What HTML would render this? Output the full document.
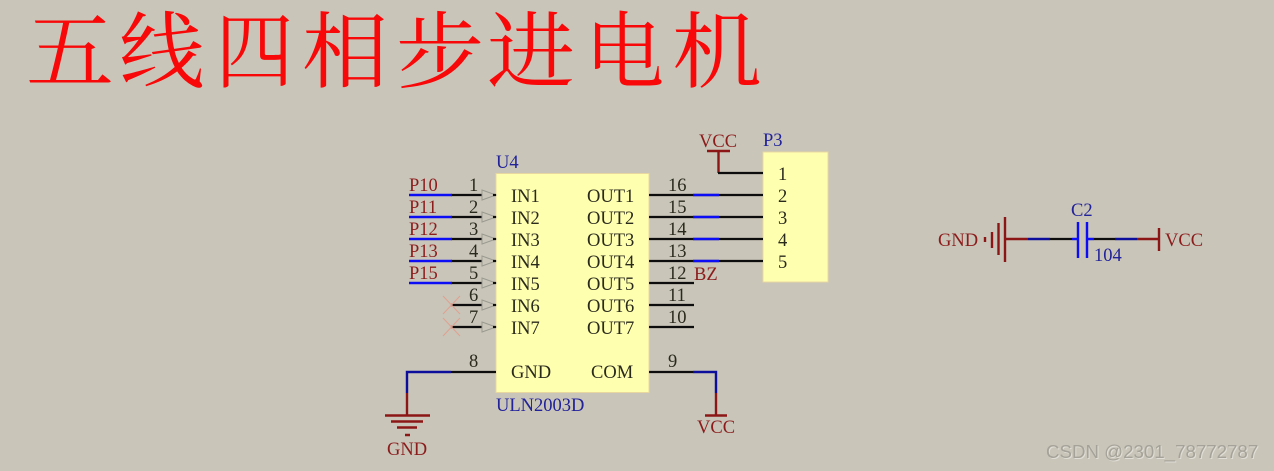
<!DOCTYPE html>
<html><head><meta charset="utf-8"><style>
html,body{margin:0;padding:0;background:#c9c5b9}
svg{display:block}
text{font-family:"Liberation Serif","Noto Serif CJK SC",serif;font-size:18.500px}
.t{fill:#2a2a1e}.r{fill:#8c1f1f}.b{fill:#20209a}
.k{stroke:#111;fill:none;stroke-width:2.200}
.u{stroke:#1010f5;fill:none;stroke-width:2.400}
.n{stroke:#10109c;fill:none;stroke-width:2.400}
.d{stroke:#8c1414;fill:none;stroke-width:2.400}
.a{stroke:#9a9a90;fill:none;stroke-width:1}
.x{stroke:#e0a090;fill:none;stroke-width:1}
.ti{font-family:"Noto Serif CJK SC","Liberation Serif",serif;font-size:88px;fill:#f80808}
</style></head><body>
<svg width="1274" height="471" viewBox="0 0 1274 471" xmlns="http://www.w3.org/2000/svg">
<defs><filter id="s" x="-2%" y="-2%" width="104%" height="104%"><feGaussianBlur stdDeviation="0.35"/></filter></defs>
<rect width="1274" height="471" fill="#c9c5b9"/>
<g>
<text class="ti" transform="translate(26 81) scale(1 .95)">五</text>
<text class="ti" transform="translate(119 81) scale(.97 .95)">线</text>
<text class="ti" transform="translate(215.500 81) scale(.89 .95)">四</text>
<text class="ti" transform="translate(302 81) scale(.98 .95)">相</text>
<text class="ti" transform="translate(396 81) scale(1 .95)">步</text>
<text class="ti" transform="translate(487 81) scale(1 .95)">进</text>
<text class="ti" transform="translate(585 81) scale(.9 .95)">电</text>
<text class="ti" transform="translate(672 81) scale(1.020 .95)">机</text>
</g>
<g filter="url(#s)">
<rect x="496" y="173.500" width="153" height="219" fill="#ffffb0" stroke="#e8d8a0"/>
<rect x="763" y="152" width="65" height="130" fill="#ffffb0" stroke="#e8d8a0"/>

<path class="k" d="M451 195H482M451 217H482M451 239H482M451 261H482M451 283H482M451 305H482M451 327H482"/>
<path class="u" d="M409 195H452M409 217H452M409 239H452M409 261H452M409 283H452"/>
<path class="a" d="M482 190L496 195L482 200ZM482 212L496 217L482 222ZM482 234L496 239L482 244ZM482 256L496 261L482 266ZM482 278L496 283L482 288ZM482 300L496 305L482 310ZM482 322L496 327L482 332Z"/>
<path class="k" d="M493 195H496M493 217H496M493 239H496M493 261H496M493 283H496M493 305H496M493 327H496" />
<path class="x" d="M443 296L460 314M460 296L443 314M443 318L460 336M460 318L443 336"/>

<path class="k" d="M649 195H763M649 217H763M649 239H763M649 261H763M649 283H694M649 305H694M649 327H694"/>
<path class="u" d="M693 195H719M693 217H719M693 239H719M693 261H719"/>

<path class="d" d="M707 151H730"/><path class="d" d="M718.500 151V173"/>
<path class="k" d="M718 173H763"/>

<path class="k" d="M451 372H496M649 372H693"/>
<path class="n" d="M451 372H407V393M693 372H716V393"/>
<path class="d" d="M407 393V415M385 415.500H430M391 421.500H423M397 427.500H417M405 435H410M716 393V415M705 415.500H727"/>

<path class="d" d="M985 237V242M992 232V248M998.500 223V255M1005 217V262M1005 239H1028M1137 239H1159M1159 228V251"/>
<path class="n" d="M1028 239H1050M1115 239H1137"/>
<path class="k" d="M1050 239H1072M1094 239H1115"/>
<path class="u" d="M1072 239H1078M1087 239H1094M1078 222V258M1087 222V258"/>

<g class="r">
<text x="409" y="191">P10</text><text x="409" y="213">P11</text><text x="409" y="235">P12</text><text x="409" y="257">P13</text><text x="409" y="279">P15</text>
<text x="694" y="280">BZ</text>
<text x="699" y="147">VCC</text>
<text x="697" y="433">VCC</text>
<text x="387" y="455">GND</text>
<text x="938" y="246">GND</text>
<text x="1165" y="246">VCC</text>
</g>
<g class="b">
<text x="496" y="168">U4</text><text x="763" y="146">P3</text><text x="496" y="411">ULN2003D</text>
<text x="1071" y="216">C2</text><text x="1094" y="261">104</text>
</g>
<g class="t">
<text x="469" y="191">1</text><text x="469" y="213">2</text><text x="469" y="235">3</text><text x="469" y="257">4</text><text x="469" y="279">5</text><text x="469" y="301">6</text><text x="469" y="323">7</text><text x="469" y="367">8</text>
<text x="511" y="202">IN1</text><text x="511" y="224">IN2</text><text x="511" y="246">IN3</text><text x="511" y="268">IN4</text><text x="511" y="290">IN5</text><text x="511" y="312">IN6</text><text x="511" y="334">IN7</text><text x="511" y="378">GND</text>
<text x="587" y="202">OUT1</text><text x="587" y="224">OUT2</text><text x="587" y="246">OUT3</text><text x="587" y="268">OUT4</text><text x="587" y="290">OUT5</text><text x="587" y="312">OUT6</text><text x="587" y="334">OUT7</text><text x="591" y="378">COM</text>
<text x="668" y="191">16</text><text x="668" y="213">15</text><text x="668" y="235">14</text><text x="668" y="257">13</text><text x="668" y="279">12</text><text x="668" y="301">11</text><text x="668" y="323">10</text><text x="668" y="367">9</text>
<text x="778" y="180">1</text><text x="778" y="202">2</text><text x="778" y="224">3</text><text x="778" y="246">4</text><text x="778" y="268">5</text>
</g>
</g>
<text x="1046" y="458" style="font-family:'Liberation Sans',sans-serif;font-size:18.700px;fill:#a5a299;filter:drop-shadow(1px 1px 0 #e0ded6)">CSDN @2301_78772787</text>
</svg>
</body></html>
